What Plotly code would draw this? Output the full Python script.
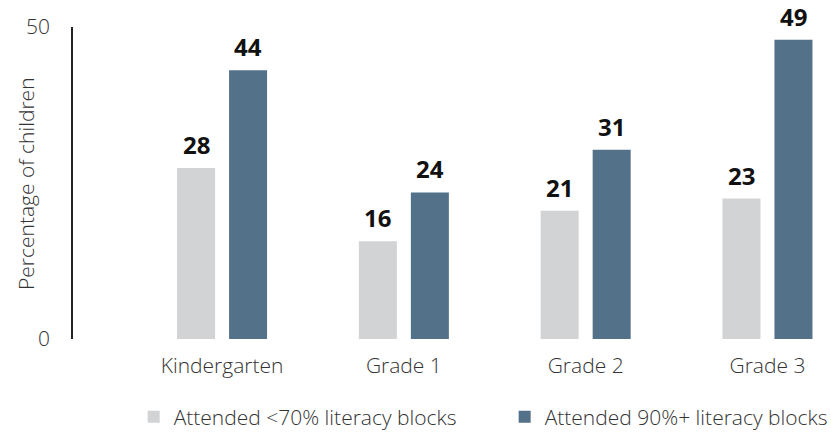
import plotly.graph_objects as go

categories = ["Kindergarten", "Grade 1", "Grade 2", "Grade 3"]
low_attendance = [28, 16, 21, 23]
high_attendance = [44, 24, 31, 49]
series_names = ["Attended <70% literacy blocks", "Attended 90%+ literacy blocks"]
y_tick_labels = ["0", "50"]
Y_MAX = 51.1

LIGHT = "#D1D3D5"
DARK = "#537189"
FONT = "Open Sans"
TXT = "#333333"

fig = go.Figure()
fig.add_trace(go.Bar(x=categories, y=low_attendance, name=series_names[0],
                     marker=dict(color=LIGHT, line=dict(width=0))))
fig.add_trace(go.Bar(x=categories, y=high_attendance, name=series_names[1],
                     marker=dict(color=DARK, line=dict(width=0))))

annotations = []
for series, off in [(low_attendance, -0.143), (high_attendance, 0.143)]:
    for j, v in enumerate(series):
        annotations.append(dict(
            x=j + off, y=v, xref="x", yref="y", text=f"<b>{v}</b>",
            showarrow=False, yanchor="bottom", yshift=5,
            font=dict(family=FONT, size=24, color="#111111"),
        ))
annotations.append(dict(
    text="Percentage of children", textangle=-90, showarrow=False,
    xref="paper", yref="paper", x=-0.0628, y=0.5, xanchor="center", yanchor="middle",
    yshift=0,
    font=dict(family=FONT, size=21, color=TXT, weight=300),
))

fig.update_layout(
    width=831, height=435,
    margin=dict(l=73, r=9, t=27, b=96, autoexpand=False),
    paper_bgcolor="white", plot_bgcolor="white",
    barmode="group", bargap=0.428, bargroupgap=0.269,
    font=dict(family=FONT, color=TXT),
    showlegend=True,
    legend=dict(orientation="h", x=0.081, xanchor="left", y=-0.316, yanchor="bottom",
                font=dict(family=FONT, size=21, color=TXT, weight=300),
                entrywidth=326, entrywidthmode="pixels", itemclick=False),
    annotations=annotations,
)
fig.update_xaxes(range=[-0.82, 3.30], showline=False, showgrid=False, zeroline=False,
                 ticks="", ticklabelstandoff=12, automargin=False,
                 tickfont=dict(family=FONT, size=21, color=TXT, weight=300))
fig.update_yaxes(range=[0, Y_MAX], tickvals=[0, Y_MAX], ticktext=y_tick_labels,
                 showline=True, linecolor="#222222", linewidth=1.5, automargin=False,
                 showgrid=False, zeroline=False, ticks="", ticklabelstandoff=17,
                 tickfont=dict(family=FONT, size=21, color=TXT, weight=300))

fig.write_html("out.html", config={"displayModeBar": False},
               post_script="document.body.style.margin='0';document.body.style.padding='0';")
